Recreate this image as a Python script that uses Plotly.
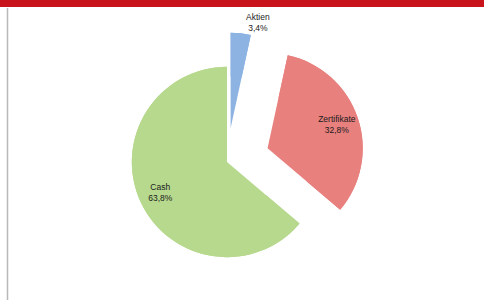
import plotly.graph_objects as go

labels = ["Aktien", "Zertifikate", "Cash"]
values = [3.4, 32.8, 63.8]
colors = ["#8db3e2", "#e8807e", "#b7d98e"]
pulls = [0.36, 0.45, 0.0]
text_pos = ["outside", "inside", "inside"]

W, H = 484, 300
cx, cy_top, half = 227, 162, 138
domain = dict(x=[(cx - half) / W, (cx + half) / W], y=[0, (H - cy_top + half) / H])

common = dict(
    labels=labels,
    values=values,
    sort=False,
    direction="clockwise",
    rotation=0,
    pull=pulls,
    automargin=False,
    marker=dict(colors=colors, line=dict(width=0)),
    domain=domain,
    hoverinfo="skip",
)

fig = go.Figure()
# solid pie body
fig.add_trace(go.Pie(textinfo="none", **common))
# ring layer on top carrying the labels (placed mid-ring like the original)
fig.add_trace(go.Pie(
    hole=0.54,
    texttemplate="%{label}<br>%{percent:.1%}",
    textposition=text_pos,
    insidetextorientation="horizontal",
    textfont=dict(family="Liberation Sans, Arial", size=8.5, color="#1a1a1a"),
    **common,
))

fig.update_layout(
    width=W, height=H,
    autosize=False,
    margin=dict(l=0, r=0, t=0, b=0, autoexpand=False),
    paper_bgcolor="white",
    plot_bgcolor="white",
    showlegend=False,
    separators=",.",
    shapes=[
        dict(type="rect", xref="paper", yref="paper", x0=0, x1=1, y0=1 - 7 / H, y1=1,
             fillcolor="#c8121c", line=dict(width=0), layer="above"),
        dict(type="line", xref="paper", yref="paper", x0=7.5 / W, x1=7.5 / W, y0=0, y1=1 - 8 / H,
             line=dict(color="#b8b8b8", width=1.5)),
    ],
)

fig.write_html(
    "out.html",
    config={"displayModeBar": False},
    post_script="document.body.style.margin='0';document.body.style.overflow='hidden';",
)
